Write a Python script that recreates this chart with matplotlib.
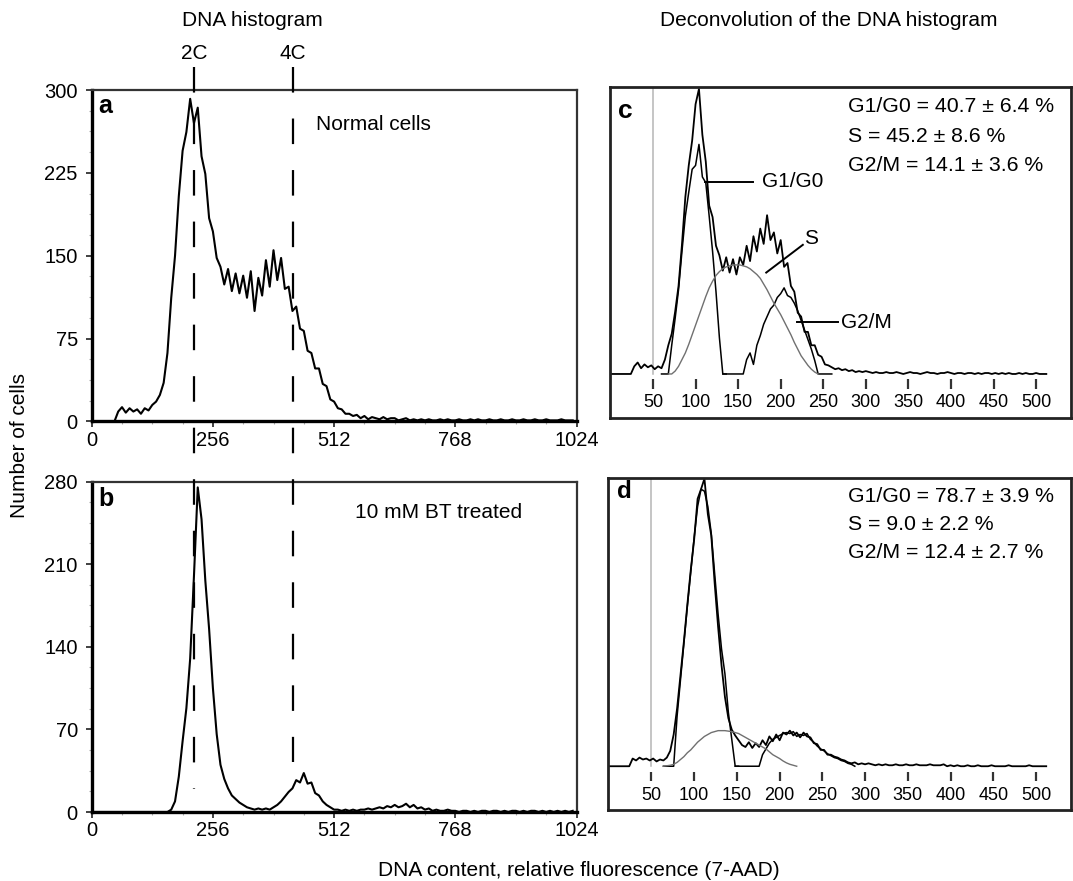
import numpy as np
import matplotlib
matplotlib.use('Agg')
import matplotlib.pyplot as plt
import matplotlib.transforms as mtransforms

plt.rcParams['font.family'] = ['Liberation Sans', 'DejaVu Sans']
plt.rcParams['lines.scale_dashes'] = False

W, H = 1073, 881

# ---- panels a/b: DNA histograms, one value every 8 channels (0..1016)
normal_counts = [
    0, 0, 0, 0, 0, 0, 0, 9, 13, 8, 12, 9, 11, 7, 12, 10,
    15, 18, 24, 35, 62, 112, 150, 204, 245, 262, 292, 270, 284, 240, 224, 184,
    172, 148, 140, 124, 138, 118, 134, 116, 132, 112, 136, 100, 130, 114, 146, 122,
    155, 128, 148, 120, 122, 100, 104, 84, 82, 64, 62, 48, 48, 34, 32, 20,
    18, 12, 11, 7, 7, 5, 6, 3, 5, 2, 4, 3, 2, 4, 2, 3,
    3, 1, 2, 3, 1, 2, 1, 2, 1, 2, 1, 1, 2, 1, 2, 1,
    1, 2, 1, 1, 2, 1, 2, 1, 1, 2, 1, 1, 2, 1, 1, 2,
    1, 1, 2, 1, 1, 2, 1, 1, 2, 1, 1, 1, 2, 1, 1, 1,
]
treated_counts = [
    0, 0, 0, 0, 0, 0, 0, 0, 0, 0, 0, 0, 0, 0, 0, 0,
    0, 0, 0, 0, 0, 2, 9, 30, 60, 88, 130, 200, 275, 248, 196, 155,
    105, 66, 40, 28, 20, 14, 11, 8, 6, 4, 3, 2, 3, 2, 3, 2,
    4, 6, 9, 13, 17, 20, 27, 25, 33, 24, 25, 16, 14, 9, 6, 4,
    2, 2, 1, 2, 1, 2, 1, 2, 2, 3, 2, 3, 4, 3, 5, 4,
    6, 4, 5, 7, 4, 6, 3, 4, 2, 3, 1, 2, 1, 1, 2, 1,
    1, 0, 1, 1, 0, 1, 0, 1, 1, 0, 1, 1, 0, 1, 0, 1,
    1, 0, 1, 0, 1, 1, 0, 1, 0, 1, 0, 1, 0, 1, 0, 1,
]
channel_step = 8
a_yticks = [0, 75, 150, 225, 300]
b_yticks = [0, 70, 140, 210, 280]
x_ticks = [0, 256, 512, 768, 1024]
c2_channel = 217
c4_channel = 425

# ---- panels c/d: deconvolution, one value every 4 units (0..512)
c_total = [
    0, 0, 0, 0, 0, 0, 0, 8, 12, 6, 10, 7, 9, 5, 8,
    6, 15, 30, 42, 65, 92, 135, 185, 218, 244, 282, 298, 250, 222, 176, 164,
    134, 124, 108, 122, 106, 120, 104, 122, 114, 134, 118, 144, 128, 152, 136, 166,
    140, 148, 126, 140, 112, 116, 92, 86, 64, 60, 44, 44, 30, 30, 20, 18,
    10, 9, 7, 5, 6, 4, 5, 3, 4, 2, 3, 2, 3, 2, 1, 2, 1,
    1, 2, 1, 1, 2, 1, 0, 1, 2, 1, 1, 0, 1, 2, 1, 1,
    0, 1, 1, 2, 1, 0, 1, 1, 0, 1, 1, 0, 1, 0, 1, 1,
    0, 1, 0, 1, 0, 1, 0, 0, 1, 0, 1, 0, 0, 1, 0, 0,
    0,
]
c_g1_start = 60
c_g1 = [0, 0, 0, 30, 58, 88, 128, 165, 190, 214, 218, 240, 206, 200, 165, 128,
        86, 38, 0, 0]
c_g2_start = 132
c_g2 = [0, 0, 0, 0, 0, 0, 0, 15, 22, 10, 30, 40, 52, 60, 68, 72,
        80, 84, 90, 82, 80, 74, 66, 56, 46, 36, 26, 14, 0, 0, 0, 0, 0]
c_s_start = 68
c_s = [0, 0, 3, 8, 15, 22, 31, 41, 51, 61, 71, 81, 90, 97, 103, 107,
       110, 112, 113, 114, 114, 114, 113, 112, 110, 107, 104, 100, 94, 88, 81, 74,
       68, 62, 55, 48, 41, 33, 26, 19, 14, 9, 5, 2, 0]

d_total = [
    0, 0, 0, 0, 0, 0, 0, 8, 6, 9, 7, 8, 6, 8, 5,
    7, 6, 9, 16, 33, 60, 95, 130, 168, 204, 236, 278, 288, 299, 262, 240,
    190, 145, 105, 72, 50, 38, 32, 27, 22, 20, 25, 19, 24, 20, 27, 22,
    31, 26, 33, 27, 35, 33, 37, 32, 35, 30, 35, 31, 30, 24, 23, 17,
    17, 12, 12, 10, 9, 7, 6, 4, 3, 4, 2, 3, 2, 3, 2, 1, 2,
    1, 2, 1, 1, 2, 1, 1, 2, 1, 1, 2, 1, 1, 1, 2, 1,
    1, 1, 2, 0, 1, 0, 1, 0, 0, 1, 0, 0, 1, 0, 0, 0,
    1, 0, 0, 0, 0, 1, 0, 0, 0, 0, 0, 1, 0, 0, 0, 0,
    0,
]
d_g1_start = 64
d_g1 = [0, 0, 0, 0, 52, 90, 128, 166, 202, 238, 270, 288, 286, 270, 242, 200,
        158, 122, 96, 56, 28, 0, 0]
d_g2_start = 148
d_g2 = [0, 0, 0, 0, 0, 0, 0, 0, 12, 18, 24, 28, 30, 32, 34, 35,
        34, 36, 31, 33, 32, 34, 28, 25, 21, 18, 16, 13, 11, 9, 8, 6,
        5, 3, 2, 0]
d_s_start = 64
d_s = [0, 0.5, 1, 2, 4, 7, 10, 14, 17, 21, 25, 28, 31, 33, 35, 36,
       37, 37, 37, 36.5, 36, 35, 34, 32, 30, 28, 26, 24, 22, 20, 18, 15,
       12, 10, 8, 5.5, 3.5, 2, 1, 0]
bin_step = 4
gate_position = 50
decon_ticks = [50, 100, 150, 200, 250, 300, 350, 400, 450, 500]

c_stats = ['G1/G0 = 40.7 ± 6.4 %', 'S = 45.2 ± 8.6 %', 'G2/M = 14.1 ± 3.6 %']
d_stats = ['G1/G0 = 78.7 ± 3.9 %', 'S = 9.0 ± 2.2 %', 'G2/M = 12.4 ± 2.7 %']


def box(left, top, right, bottom):
    return [left / W, 1 - bottom / H, (right - left) / W, (bottom - top) / H]


def fy(y):
    return 1 - y / H


fig = plt.figure(figsize=(W / 100, H / 100), dpi=100)
ax_a = fig.add_axes(box(91.7, 90, 576.5, 421.5))
ax_b = fig.add_axes(box(91.7, 481.5, 576.5, 812))
ax_c = fig.add_axes(box(610, 87, 1071, 417.5))
ax_d = fig.add_axes(box(608.3, 477.7, 1071, 810))


def draw_histogram(ax, counts, yticks):
    x = np.arange(len(counts)) * channel_step
    ax.plot(x, counts, color='black', lw=1.5)
    ax.set_xlim(0, 1024)
    ax.set_ylim(0, yticks[-1])
    ax.set_xticks(x_ticks)
    ax.set_xticks(np.arange(0, 1025, 64), minor=True)
    ax.set_yticks(yticks)
    step = (yticks[1] - yticks[0]) / 4
    ax.set_yticks(np.arange(0, yticks[-1] + 0.1, step), minor=True)
    ax.tick_params(which='major', length=4, width=1.3, color='#333', labelsize=14.5)
    ax.tick_params(which='minor', length=2.5, width=0.8, color='#aaa')
    ax.tick_params(axis='x', which='major', pad=2.5)
    ax.tick_params(axis='y', which='major', pad=6)
    for side in ['left', 'bottom']:
        ax.spines[side].set_linewidth(2.4)
    for side in ['top', 'right']:
        ax.spines[side].set_linewidth(1.6)
        ax.spines[side].set_color('#333')


def draw_decon(ax, total, g1, g1_start, g2, g2_start, s, s_start):
    ylo, yhi = -45.5, 300
    ax.set_xlim(-0.5, 541)
    ax.set_ylim(ylo, yhi)
    ax.axvline(gate_position, ymin=(0 - ylo) / (yhi - ylo), ymax=1,
               color='#b5b5b5', lw=1.1)
    ax.plot(np.arange(len(total)) * bin_step, total, color='black', lw=1.3)
    ax.plot(g1_start + np.arange(len(g1)) * bin_step, g1, color='black', lw=1.1)
    ax.plot(g2_start + np.arange(len(g2)) * bin_step, g2, color='black', lw=1.1)
    ax.plot(s_start + np.arange(len(s)) * bin_step, s, color='#707070', lw=1.0)
    ax.vlines(decon_ticks, -15.5, -5.5, color='#333', lw=1.6)
    for t in decon_ticks:
        ax.text(t, -30, str(t), ha='center', va='center', fontsize=13)
    ax.set_xticks([])
    ax.set_yticks([])
    for side in ax.spines:
        ax.spines[side].set_linewidth(2.0)
        ax.spines[side].set_color('#222')


draw_histogram(ax_a, normal_counts, a_yticks)
draw_histogram(ax_b, treated_counts, b_yticks)
draw_decon(ax_c, c_total, c_g1, c_g1_start, c_g2, c_g2_start, c_s, c_s_start)
draw_decon(ax_d, d_total, d_g1, d_g1_start, d_g2, d_g2_start, d_s, d_s_start)

# 2C / 4C dashed markers across panels a and b
trans = mtransforms.blended_transform_factory(ax_a.transData, fig.transFigure)
for ch, label, y_end in [(c2_channel, '2C', 789), (c4_channel, '4C', 762)]:
    fig.add_artist(plt.Line2D([ch, ch], [fy(67), fy(y_end)], transform=trans,
                              color='black', lw=1.6, dashes=(18.4, 18.7)))
    fig.text(ch, fy(53.5), label, transform=trans, ha='center', va='center',
             fontsize=15)

# pointer labels in panel c
ax_c.plot([111, 168], [201, 201], color='black', lw=1.4)
ax_c.text(178, 201, 'G1/G0', ha='left', va='center', fontsize=15)
ax_c.plot([183, 226], [106, 135], color='black', lw=1.4)
ax_c.text(228, 142, 'S', ha='left', va='center', fontsize=15)
ax_c.plot([219, 267], [54, 54], color='black', lw=1.4)
ax_c.text(271, 54, 'G2/M', ha='left', va='center', fontsize=15)

for i, line in enumerate(c_stats):
    fig.text(848 / W, fy(106.5 + 29.5 * i), line, ha='left', va='center', fontsize=15.3)
for i, line in enumerate(d_stats):
    fig.text(848 / W, fy(496 + 28.3 * i), line, ha='left', va='center', fontsize=15.3)

# panel letters and captions
fig.text(98 / W, fy(113), 'a', fontsize=18, fontweight='bold', va='baseline')
fig.text(98 / W, fy(506), 'b', fontsize=18, fontweight='bold', va='baseline')
fig.text(618 / W, fy(118.5), 'c', fontsize=19, fontweight='bold', va='baseline')
fig.text(617 / W, fy(497.5), 'd', fontsize=17.5, fontweight='bold', va='baseline')
fig.text(316 / W, fy(125), 'Normal cells', ha='left', va='center', fontsize=15)
fig.text(355 / W, fy(512), '10 mM BT treated', ha='left', va='center', fontsize=15)

fig.text(252 / W, fy(25.5), 'DNA histogram', ha='center', va='baseline', fontsize=15)
fig.text(829 / W, fy(25.5), 'Deconvolution of the DNA histogram', ha='center',
         va='baseline', fontsize=15)
fig.text(19.5 / W, fy(445), 'Number of cells', rotation=90, ha='center',
         va='center', fontsize=15)
fig.text(579 / W, fy(870), 'DNA content, relative fluorescence (7-AAD)',
         ha='center', va='center', fontsize=15)

fig.savefig('out.png', dpi=100)
